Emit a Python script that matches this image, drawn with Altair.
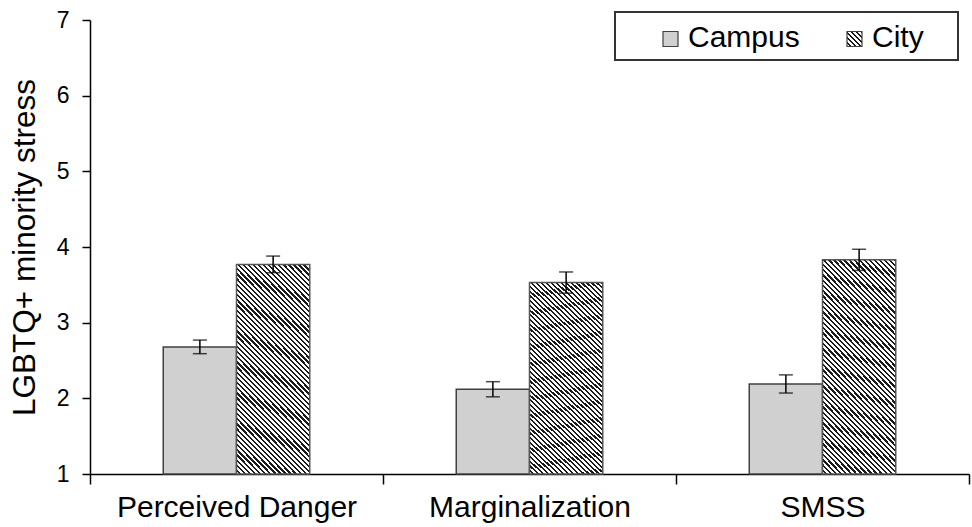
import altair as alt
import pandas as pd

FONT = "Liberation Sans"

categories = ["Perceived Danger", "Marginalization", "SMSS"]
series = ["Campus", "City"]
campus_means = [2.68, 2.12, 2.19]
city_means = [3.77, 3.53, 3.83]
campus_err = [0.09, 0.10, 0.12]
city_err = [0.11, 0.14, 0.14]
y_ticks = [1, 2, 3, 4, 5, 6, 7]
y_title = "LGBTQ+ minority stress"

rows = []
for i, c in enumerate(categories):
    rows.append(dict(category=c, series="Campus", mean=campus_means[i], err=campus_err[i]))
    rows.append(dict(category=c, series="City", mean=city_means[i], err=city_err[i]))
df = pd.DataFrame(rows)
df["lo"] = df["mean"] - df["err"]
df["hi"] = df["mean"] + df["err"]

W, H = 879, 454


def hatch(w, h, period=3.6, ink=0.45, dark="#1a1a1a", light="#ffffff"):
    """Diagonal '\\' hatching as a hard-stop linear gradient (bbox units)."""
    span = (w + h) / 2 ** 0.5
    n = max(1, round(span / period))
    k = (w + h) / (w * w + h * h)
    stops = []
    for i in range(n):
        a = i / n
        b = (i + 1 - ink) / n
        c = (i + 1) / n
        stops += [
            alt.GradientStop(offset=a, color=light),
            alt.GradientStop(offset=b, color=light),
            alt.GradientStop(offset=b, color=dark),
            alt.GradientStop(offset=c, color=dark),
        ]
    return alt.LinearGradient(gradient="linear", stops=stops,
                              x1=0, y1=1, x2=w * k, y2=1 - h * k)


x_enc = alt.X(
    "category:N", sort=categories,
    scale=alt.Scale(paddingInner=0, paddingOuter=0),
    axis=alt.Axis(title=None, labelAngle=0, labelFont=FONT, labelFontSize=30,
                  labelColor="#000", labelPadding=8, labelLimit=0, tickBand="extent",
                  tickSize=10, tickColor="#000", tickWidth=1.5,
                  domainColor="#000", domainWidth=1.5, grid=False),
)
xoff = alt.XOffset("series:N", sort=series,
                   scale=alt.Scale(domain=series, paddingInner=0, paddingOuter=1))


def y_enc(field):
    return alt.Y(
        f"{field}:Q",
        scale=alt.Scale(domain=[1, 7], nice=False, zero=False),
        axis=alt.Axis(values=y_ticks, title=y_title, grid=False,
                      labelFont=FONT, labelFontSize=23, labelColor="#000",
                      labelPadding=13, tickSize=8, tickColor="#000", tickWidth=1.5,
                      domainColor="#000", domainWidth=1.5,
                      titleFont=FONT, titleFontSize=31.5, titleFontWeight="normal",
                      titleColor="#000", titleAngle=270, titleX=-56, titleY=H / 2,
                      titleAlign="center", titleBaseline="alphabetic"),
    )


base = alt.Chart(df)

campus_bars = base.transform_filter(alt.datum.series == "Campus").mark_bar(
    fill="#d0d0d0", stroke="#404040", strokeWidth=1.5
).encode(x=x_enc, xOffset=xoff, y=y_enc("mean"), y2=alt.Y2Datum(1))

city_bars = base.transform_filter(alt.datum.series == "City").mark_bar(
    fill=hatch(73.25, 205), stroke="#555555", strokeWidth=1.5
).encode(x=x_enc, xOffset=xoff, y=y_enc("mean"), y2=alt.Y2Datum(1))

err_rule = base.mark_rule(color="#000", strokeWidth=1.5).encode(
    x=x_enc, xOffset=xoff, y=y_enc("lo"), y2="hi:Q")
cap_lo = base.mark_tick(orient="horizontal", size=14, thickness=1.5, color="#000").encode(
    x=x_enc, xOffset=xoff, y=y_enc("lo"))
cap_hi = base.mark_tick(orient="horizontal", size=14, thickness=1.5, color="#000").encode(
    x=x_enc, xOffset=xoff, y=y_enc("hi"))

# Legend (drawn manually to match the boxed horizontal legend)
legend_data = alt.Data(values=[{"series": s} for s in series])
box = alt.Chart(legend_data).transform_filter(alt.datum.series == series[0]).mark_rect(
    fill="#ffffff", stroke="#333333", strokeWidth=2
).encode(x=alt.value(525), x2=alt.value(868), y=alt.value(-8), y2=alt.value(40))

legend_pos = {"Campus": (573, 598), "City": (757, 782)}
legend_fill = {"Campus": "#d0d0d0", "City": hatch(15, 15)}
legend_layers = [box]
for s in series:
    sx, tx = legend_pos[s]
    legend_layers.append(
        alt.Chart(legend_data).transform_filter(alt.datum.series == s).mark_rect(
            fill=legend_fill[s], stroke="#404040", strokeWidth=1.2
        ).encode(x=alt.value(sx), x2=alt.value(sx + 15), y=alt.value(11.5), y2=alt.value(26.5))
    )
    legend_layers.append(
        alt.Chart(legend_data).transform_filter(alt.datum.series == s).mark_text(
            align="left", baseline="alphabetic", font=FONT, fontSize=30, color="#000"
        ).encode(x=alt.value(tx), y=alt.value(27), text="series:N")
    )

chart = alt.layer(
    campus_bars, city_bars, err_rule, cap_lo, cap_hi, *legend_layers
).properties(
    width=W, height=H,
    padding={"left": 90, "top": 20, "right": 3, "bottom": 53},
    autosize=alt.AutoSizeParams(type="none"),
    background="#ffffff",
).configure_view(stroke=None)

chart.save("out.html", embed_options={"renderer": "svg", "actions": False})
